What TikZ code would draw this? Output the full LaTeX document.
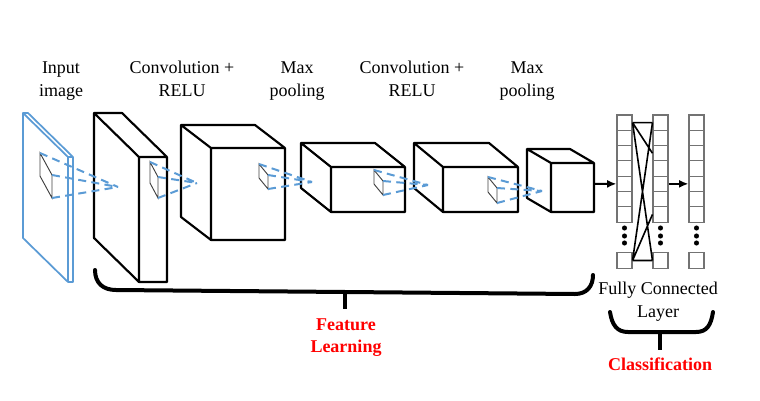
\documentclass[tikz,border=0pt]{standalone}
\usepackage{fontspec}
\setmainfont{Liberation Serif}
\usetikzlibrary{arrows.meta}

\definecolor{netblue}{RGB}{91,155,213}
\definecolor{labelred}{RGB}{255,0,0}

\tikzset{
  boxline/.style={line width=1.6pt, line join=round},
  kernelline/.style={black!75, line width=0.7pt},
  field/.style={netblue, line width=1.5pt, dash pattern=on 6pt off 4pt},
  fccell/.style={draw=black!55, line width=0.8pt, minimum width=11.25pt, minimum height=11.5pt, inner sep=0pt},
  toplabel/.style={align=center, anchor=base, inner sep=0pt, font=\fontsize{13.5}{17.25}\selectfont},
  grouplabel/.style={align=center, anchor=base, inner sep=0pt, text=labelred, font=\fontsize{13.5}{16.5}\selectfont\bfseries},
  bracket/.style={line width=3pt, line cap=round},
  flow/.style={line width=1.5pt, -{Latex[length=7pt,width=6pt]}}
}

%% cuboid: front face (x1,y1)--(x2,y2), depth (dx,dy)
\newcommand{\cuboid}[7][]{%
  \draw[boxline,#1] (#2,#3) rectangle (#4,#5)
    (#2,#3) -- ({#2+#6},{#3+#7}) -- ({#4+#6},{#3+#7}) -- (#4,#3)
    ({#2+#6},{#3+#7}) -- ({#2+#6},{#5+#7}) -- (#2,#5);}

%% small kernel prism: name, x, y, width, drop, height
\newcommand{\kernelprism}[6]{%
  \coordinate (#1-a) at (#2,#3);
  \coordinate (#1-b) at ({#2+#4},{#3+#5});
  \coordinate (#1-c) at ({#2+#4},{#3+#5+#6});
  \coordinate (#1-d) at (#2,{#3+#6});
  \draw[kernelline] (#1-a) -- (#1-b) -- (#1-c) -- (#1-d) -- cycle;}

\begin{document}
\begin{tikzpicture}[x=0.75pt,y=-0.75pt]
  \useasboundingbox (0,0) rectangle (760,400);

  %% labels on top (base = last line)
  \node[toplabel] (inlabel) at (61,96) {Input\\image};
  \node[toplabel] (conv1label) at (182,96) {Convolution +\\RELU};
  \node[toplabel] (pool1label) at (297,96) {Max\\pooling};
  \node[toplabel] (conv2label) at (412,96) {Convolution +\\RELU};
  \node[toplabel] (pool2label) at (527,96) {Max\\pooling};

  %% input image
  \cuboid[netblue,line width=1.3pt]{68}{157}{73}{282}{-45}{-44}
  %% feature maps
  \cuboid{139}{157}{167}{282}{-45}{-44}
  \cuboid{211}{148}{285}{240}{-30}{-23}
  \cuboid{331}{167}{405}{212}{-30}{-24}
  \cuboid{443}{167}{518}{212}{-29}{-24}
  \cuboid{551}{163}{594}{212}{-24}{-14}

  %% kernels
  \kernelprism{k0}{40}{153}{12}{22}{23}
  \kernelprism{k1}{150}{162}{8}{15}{21}
  \kernelprism{k2}{259}{164}{9}{11}{14}
  \kernelprism{k3}{374}{170}{9}{11}{14}
  \kernelprism{k4}{488}{177}{9}{11}{15}
  \coordinate (t0) at (118,187);
  \coordinate (t1) at (197,183);
  \coordinate (t2) at (312,182);
  \coordinate (t3) at (428,185);
  \coordinate (t4) at (542,191);
  \foreach \k in {0,...,4}
    \draw[field] (k\k-a) -- (t\k) (k\k-b) -- (t\k) (k\k-c) -- (t\k);

  %% fully connected columns
  \foreach \col/\x in {1/624.5, 2/660.5, 3/696.5} {
    \foreach \i in {1,...,7}
      \node[fccell] (fc\col-\i) at (\x,{107.35+15.3*\i}) {};
    \node[fccell] (fc\col-8) at (\x,260.5) {};
    \foreach \y in {228,236,243}
      \fill (\x,\y) circle (1.9pt);
  }
  \draw[line width=1.2pt] (fc1-1.east) -- (fc2-1.west)
    (fc1-8.east) -- (fc2-8.west)
    (fc1-1.east) -- (fc2-8.west)
    (fc2-1.west) -- (fc1-8.east)
    (fc1-1.east) -- (fc2-3.west)
    (fc1-8.east) -- (fc2-7.west);

  %% flow arrows
  \coordinate (pool2out) at (594,184);
  \draw[flow] (pool2out) -- (fc1-5.west);
  \draw[flow] (fc2-5.east) -- (fc3-5.west);

  \node[toplabel] (fclabel) at (658,317) {Fully Connected\\Layer};

  %% feature learning bracket
  \draw[bracket] (95,270) .. controls (95,283) and (103,290) .. (116,290)
    -- (575,294) .. controls (587,294) and (593,286) .. (593,275);
  \draw[bracket,line cap=butt] (345,292) -- (345,309);
  \node[grouplabel] (featlabel) at (346,352) {Feature\\Learning};

  %% classification bracket
  \draw[bracket] (610,312) .. controls (612,325) and (617,332) .. (628,332)
    -- (696,332) .. controls (707,332) and (711,325) .. (713,312);
  \draw[bracket,line cap=butt] (660,332) -- (660,350);
  \node[grouplabel] (clslabel) at (660,370) {Classification};
\end{tikzpicture}
\end{document}
